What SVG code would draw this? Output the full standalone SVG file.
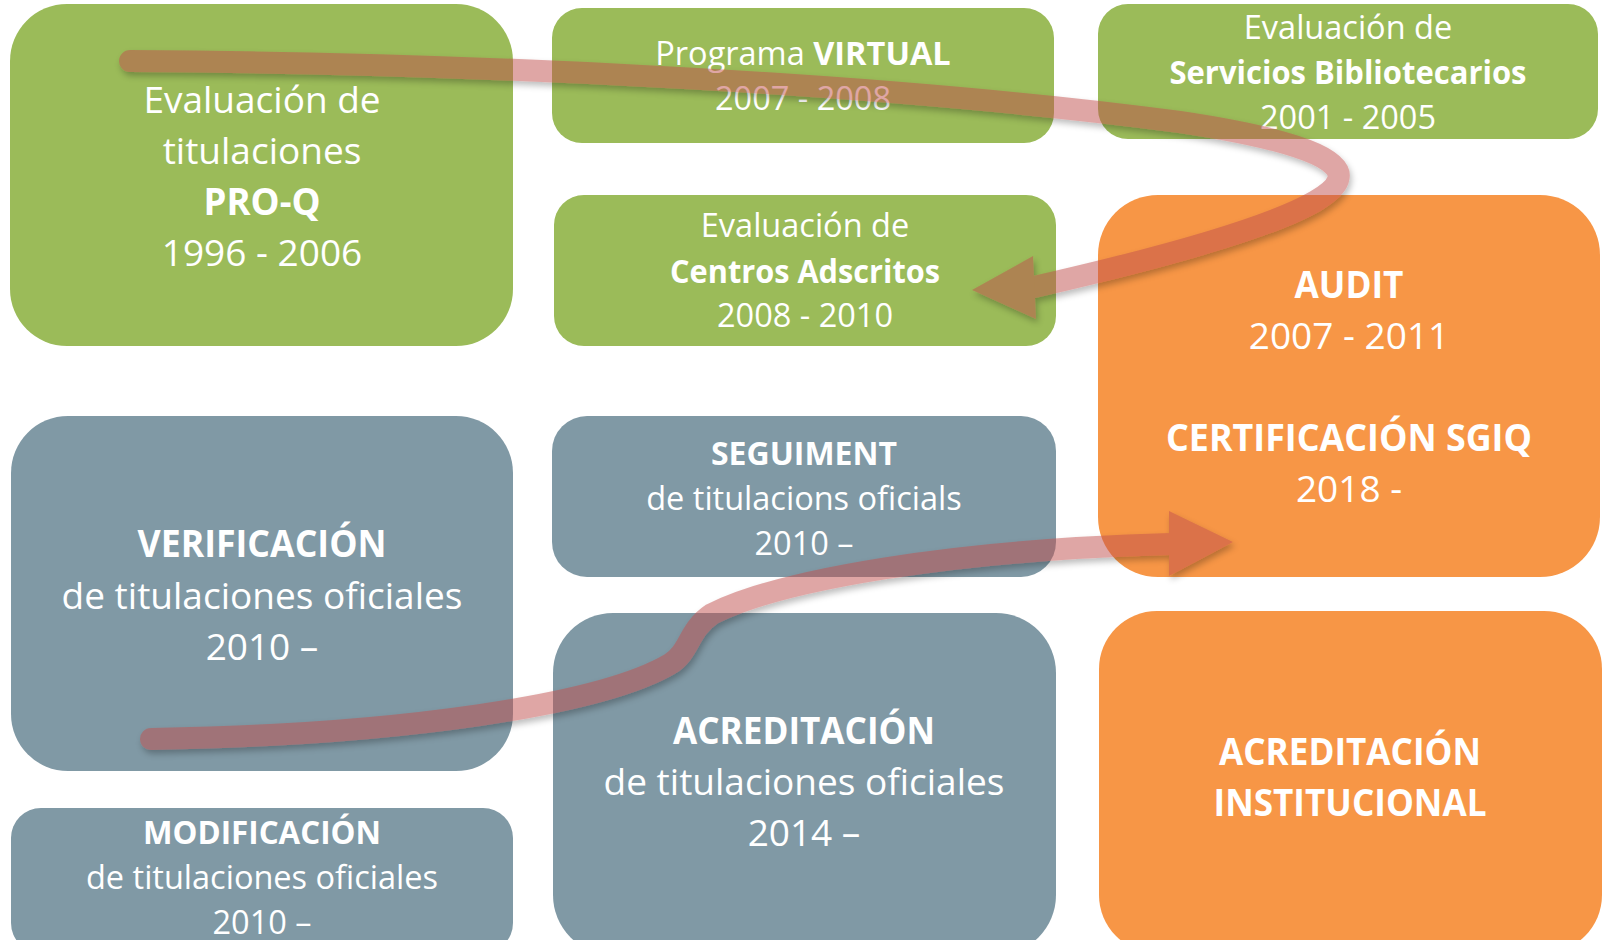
<svg xmlns="http://www.w3.org/2000/svg" width="1604" height="940" viewBox="0 0 1604 940">
<defs>
<style>
.g{fill:#9BBB59}
.o{fill:#F79646}
.b{fill:#8099A5}
text{font-family:"Open Sans","Noto Sans",sans-serif;fill:#ffffff;text-anchor:middle}
.L{font-size:37px}
.S{font-size:32.5px}
.bd{font-weight:bold}
.arrow{fill:none;stroke:#C0504D;stroke-width:22;stroke-linecap:round}
.head{fill:#C0504D}
</style>
<filter id="sh" x="-10%" y="-20%" width="120%" height="140%">
<feDropShadow dx="2" dy="4" stdDeviation="3" flood-color="#000000" flood-opacity="0.5"/>
</filter>
</defs>
<rect width="1604" height="940" fill="#ffffff"/>

<g id="n-proq">
<rect class="g" x="10" y="4" width="503" height="342" rx="57"/>
<text class="L" x="262" y="113">Evaluación de</text>
<text class="L" x="262" y="164">titulaciones</text>
<text class="L bd" x="262" y="215" textLength="117" lengthAdjust="spacingAndGlyphs">PRO-Q</text>
<text class="L" x="262" y="266">1996 - 2006</text>
</g>

<g id="n-virtual">
<rect class="g" x="552" y="8" width="502" height="135" rx="30"/>
<text class="S" x="803" y="65">Programa <tspan class="bd">VIRTUAL</tspan></text>
<text class="S" x="803" y="110">2007 - 2008</text>
</g>

<g id="n-centros">
<rect class="g" x="554" y="195" width="502" height="151" rx="30"/>
<text class="S" x="805" y="237">Evaluación de</text>
<text class="S bd" x="805" y="283" textLength="270" lengthAdjust="spacingAndGlyphs">Centros Adscritos</text>
<text class="S" x="805" y="327">2008 - 2010</text>
</g>

<g id="n-servicios">
<rect class="g" x="1098" y="4" width="500" height="135" rx="30"/>
<text class="S" x="1348" y="39">Evaluación de</text>
<text class="S bd" x="1348" y="84" textLength="357" lengthAdjust="spacingAndGlyphs">Servicios Bibliotecarios</text>
<text class="S" x="1348" y="129">2001 - 2005</text>
</g>

<g id="n-audit">
<rect class="o" x="1098" y="195" width="502" height="382" rx="60"/>
<text class="L bd" x="1349" y="298" textLength="109" lengthAdjust="spacingAndGlyphs">AUDIT</text>
<text class="L" x="1349" y="349">2007 - 2011</text>
<text class="L bd" x="1349" y="451" textLength="366" lengthAdjust="spacingAndGlyphs">CERTIFICACIÓN SGIQ</text>
<text class="L" x="1349" y="502">2018 -</text>
</g>

<g id="n-verificacion">
<rect class="b" x="11" y="416" width="502" height="355" rx="57"/>
<text class="L bd" x="262" y="557" textLength="249" lengthAdjust="spacingAndGlyphs">VERIFICACIÓN</text>
<text class="L" x="262" y="609">de titulaciones oficiales</text>
<text class="L" x="262" y="660">2010 –</text>
</g>

<g id="n-seguiment">
<rect class="b" x="552" y="416" width="504" height="161" rx="35"/>
<text class="S bd" x="804" y="465" textLength="186" lengthAdjust="spacingAndGlyphs">SEGUIMENT</text>
<text class="S" x="804" y="510">de titulacions oficials</text>
<text class="S" x="804" y="555">2010 –</text>
</g>

<g id="n-modificacion">
<rect class="b" x="11" y="808" width="502" height="145" rx="30"/>
<text class="S bd" x="262" y="844" textLength="238" lengthAdjust="spacingAndGlyphs">MODIFICACIÓN</text>
<text class="S" x="262" y="889">de titulaciones oficiales</text>
<text class="S" x="262" y="934">2010 –</text>
</g>

<g id="n-acreditacion">
<rect class="b" x="553" y="613" width="503" height="342" rx="60"/>
<text class="L bd" x="804" y="744" textLength="262" lengthAdjust="spacingAndGlyphs">ACREDITACIÓN</text>
<text class="L" x="804" y="795">de titulaciones oficiales</text>
<text class="L" x="804" y="846">2014 –</text>
</g>

<g id="n-institucional">
<rect class="o" x="1099" y="611" width="503" height="342" rx="58"/>
<text class="L bd" x="1350" y="765" textLength="262" lengthAdjust="spacingAndGlyphs">ACREDITACIÓN</text>
<text class="L bd" x="1350" y="816" textLength="273" lengthAdjust="spacingAndGlyphs">INSTITUCIONAL</text>
</g>

<g id="connectors">
<g opacity="0.5" filter="url(#sh)">
<path class="arrow" d="M130,61 C500,63 900,85 1180,122 C1300,140 1345,160 1338,180 C1330,205 1240,240 1034,287"/>
<polygon class="head" points="972,290 1033,256 1036,319"/>
</g>
<g opacity="0.5" filter="url(#sh)">
<path class="arrow" d="M151,739 C400,735 600,705 670,664 C690,652 688,630 712,614 C780,580 950,550 1170,544"/>
<polygon class="head" points="1233,542 1169,511 1169,576"/>
</g>
</g>
</svg>
